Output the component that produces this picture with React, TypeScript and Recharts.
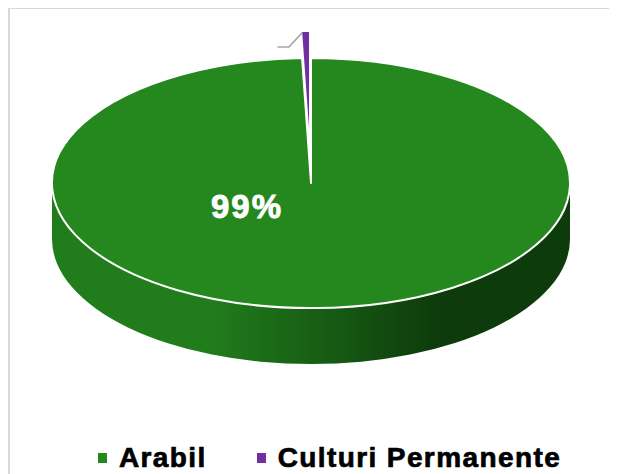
import { Cell, Legend, Pie, PieChart } from 'recharts'

// land use split
const categories = ['Arabil', 'Culturi Permanente']
const shares = [99.45, 0.55]

const colors = ['#24881e', '#7030a0']
const sideColors = [
  ['#217d1c', '#0d3b0b'],
  ['#5a2680', '#361650'],
]

const data = categories.map((name, i) => ({ name, value: shares[i] }))

const TILT = 0.483 // ellipse squash (ry / rx)
const DEPTH = 56 // height of the side wall
const EXPLODE = 56 // pull-out of the small slice
const RAD = Math.PI / 180
const FONT = '"Liberation Sans", Arial, sans-serif'

const pt = (cx: number, cy: number, r: number, deg: number) => [
  cx + r * Math.cos(-deg * RAD),
  cy + r * TILT * Math.sin(-deg * RAD),
]

const offsetFor = (name: string, midAngle: number) =>
  name === categories[1]
    ? [EXPLODE * Math.cos(-midAngle * RAD), EXPLODE * TILT * Math.sin(-midAngle * RAD)]
    : [0, 0]

const Slice3D = (props: any) => {
  const { cx, cy, outerRadius: r, startAngle, endAngle, midAngle, fill } = props
  const name = props.name ?? props.payload?.name
  const idx = categories.indexOf(name)
  const [ox, oy] = offsetFor(name, midAngle)
  const x0 = cx + ox
  const y0 = cy + oy
  const ry = r * TILT
  const lo = Math.min(startAngle, endAngle)
  const hi = Math.max(startAngle, endAngle)
  const [sx, sy] = pt(x0, y0, r, startAngle)
  const [ex, ey] = pt(x0, y0, r, endAngle)
  const large = hi - lo > 180 ? 1 : 0
  const sweep = startAngle > endAngle ? 1 : 0
  const top = `M${x0},${y0} L${sx},${sy} A${r},${ry} 0 ${large} ${sweep} ${ex},${ey} Z`

  // only the front half of the rim is visible
  const walls: string[] = []
  for (const [a, b] of [[-540, -360], [-180, 0], [180, 360]]) {
    const s = Math.max(lo, a)
    const e = Math.min(hi, b)
    if (e - s > 0.01) {
      const [p1x, p1y] = pt(x0, y0, r, e)
      const [p2x, p2y] = pt(x0, y0, r, s)
      walls.push(
        `M${p1x},${p1y} A${r},${ry} 0 0 1 ${p2x},${p2y} L${p2x},${p2y + DEPTH} A${r},${ry} 0 0 0 ${p1x},${p1y + DEPTH} Z`,
      )
    }
  }
  const gid = `side-grad-${idx}`
  const [c1, c2] = sideColors[idx] ?? sideColors[0]

  return (
    <g>
      <defs>
        <linearGradient id={gid} gradientUnits="userSpaceOnUse" x1={x0 - r} y1={0} x2={x0 + r} y2={0}>
          <stop offset="0%" stopColor={c1} />
          <stop offset="30%" stopColor={c1} />
          <stop offset="75%" stopColor={c2} />
          <stop offset="100%" stopColor={c2} />
        </linearGradient>
      </defs>
      {walls.map((d, i) => (
        <path key={i} d={d} fill={`url(#${gid})`} stroke="none" />
      ))}
      <path d={top} fill={fill} stroke="#ffffff" strokeWidth={2} strokeLinejoin="round" />
    </g>
  )
}

const renderLabel = (props: any) => {
  const { cx, cy, outerRadius: r, midAngle, percent, index } = props
  if (index === 0) {
    return (
      <text
        x={cx - 0.247 * r}
        y={cy + 0.089 * r}
        fill="#ffffff"
        stroke="#ffffff"
        strokeWidth={0.9}
        textAnchor="middle"
        dominantBaseline="central"
        fontFamily={FONT}
        fontWeight={700}
        fontSize={33}
        letterSpacing={2}
      >
        {`${Math.round(percent * 100)}%`}
      </text>
    )
  }
  // leader line of the small slice (its text sits outside the frame)
  const [ox, oy] = offsetFor(categories[index], midAngle)
  const [px, py] = pt(cx + ox, cy + oy, r, midAngle)
  return (
    <path
      d={`M${px - 3.5},${py + 2} L${px - 16.5},${py + 16} L${px - 28},${py + 16}`}
      fill="none"
      stroke="#a6a6a6"
      strokeWidth={1.5}
    />
  )
}

const renderLegend = ({ payload }: any) => (
  <div
    style={{
      display: 'flex',
      justifyContent: 'center',
      alignItems: 'center',
      height: 32,
      paddingLeft: 32,
      fontFamily: FONT,
      fontWeight: 700,
      fontSize: 28,
      letterSpacing: 1.4,
      color: '#000000',
      WebkitTextStroke: '0.7px #000000',
    }}
  >
    {(payload ?? []).map((item: any, i: number) => {
      const ci = categories.indexOf(item.value)
      return (
        <span
          key={item.value}
          style={{ display: 'flex', alignItems: 'center', marginRight: i < payload.length - 1 ? 50 : 0 }}
        >
          <span
            style={{
              display: 'inline-block',
              width: 9,
              height: 10,
              marginRight: 12,
              background: ci >= 0 ? colors[ci] : item.color,
            }}
          />
          {item.value}
        </span>
      )
    })}
  </div>
)

export default function App() {
  return (
    <div
      style={{
        width: 609,
        height: 466,
        boxSizing: 'border-box',
        borderTop: '1px solid #d9d9d9',
        borderLeft: '2px solid #d9d9d9',
        background: '#ffffff',
        fontFamily: FONT,
      }}
    >
      <style>{'html, body { overflow: hidden; }'}</style>
      <PieChart width={607} height={465} margin={{ top: 0, right: 0, bottom: 0, left: 0 }}>
        <Pie
          data={data}
          dataKey="value"
          nameKey="name"
          cx={301}
          cy={174}
          outerRadius={259}
          startAngle={90}
          endAngle={-270}
          stroke="#ffffff"
          label={renderLabel}
          labelLine={false}
          shape={Slice3D}
          activeShape={Slice3D}
          inactiveShape={Slice3D}
          isAnimationActive={false}
        >
          {data.map((d, i) => (
            <Cell key={d.name} fill={colors[i]} />
          ))}
        </Pie>
        <Legend verticalAlign="bottom" align="center" content={renderLegend} />
      </PieChart>
    </div>
  )
}
